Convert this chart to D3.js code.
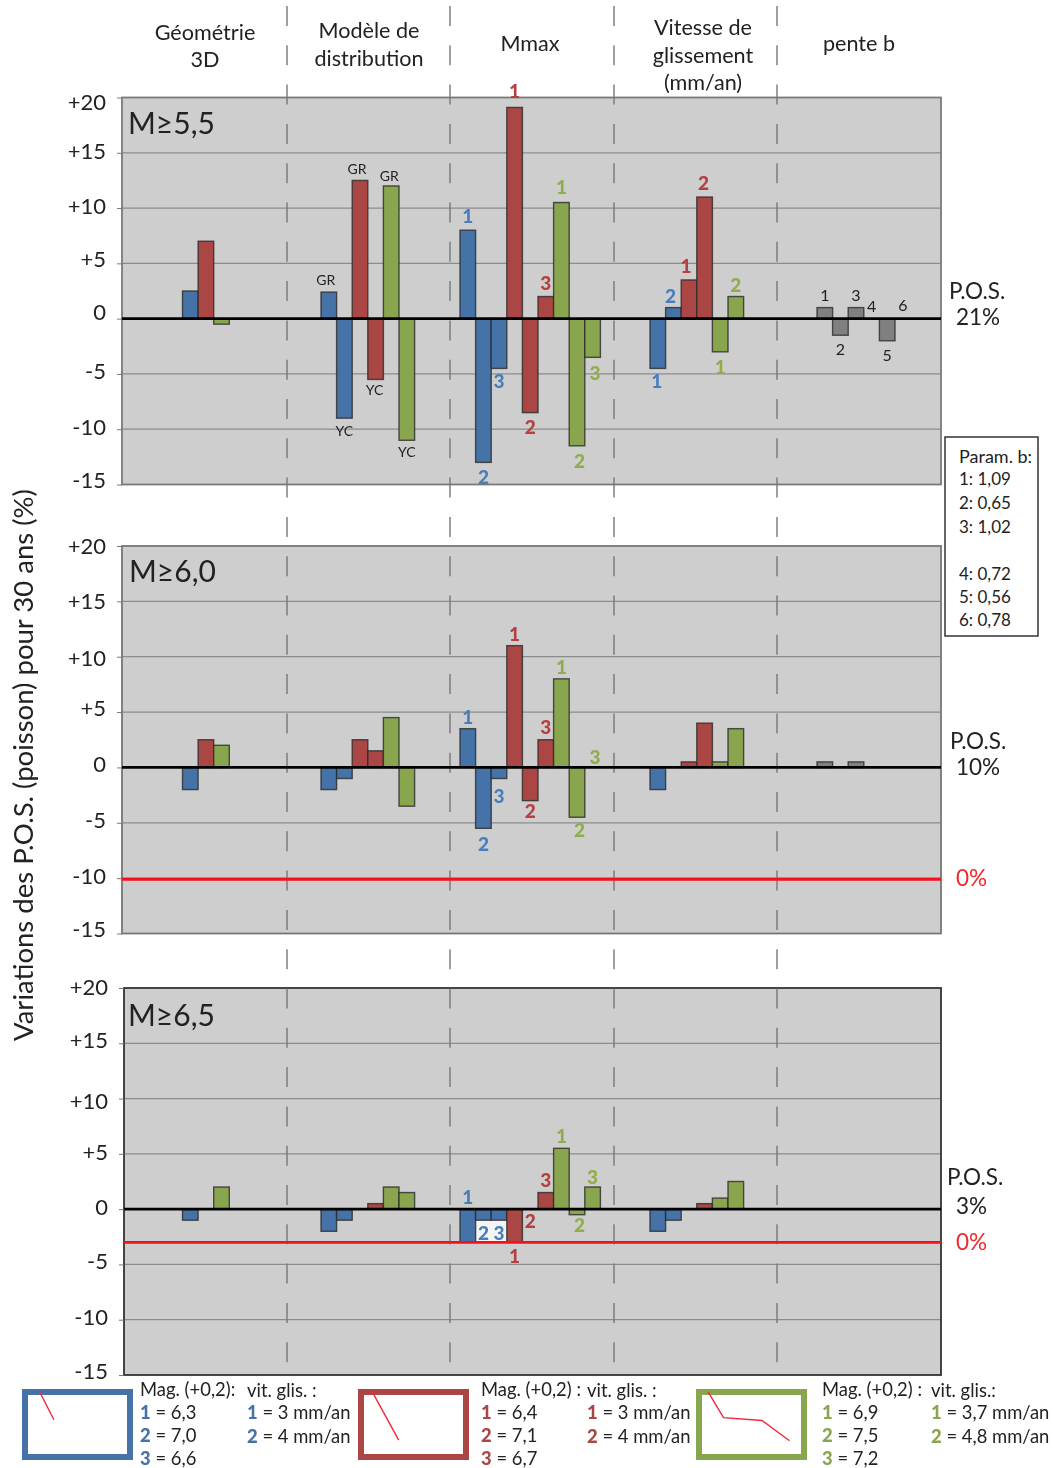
<!DOCTYPE html>
<html><head><meta charset="utf-8">
<script src="https://cdn.jsdelivr.net/npm/d3@7/dist/d3.min.js"></script>
<style>
html,body{margin:0;padding:0;background:#fff}
svg{display:block;filter:blur(0.45px)}
text{font-family:Lato,"Open Sans",sans-serif;fill:#222}
</style></head><body>
<svg id="c" width="1053" height="1468"></svg>
<script>
// ---------- data ----------
const tickValues = [20,15,10,5,0,-5,-10,-15];
const headers = [["Géométrie","3D"],["Modèle de","distribution"],["Mmax"],["Vitesse de","glissement","(mm/an)"],["pente b"]];
const panelTitles = ["M≥5,5","M≥6,0","M≥6,5"];

const geomColors    = ["b","r","g"];
const modeleColors  = ["b","b","r","r","g","g"];
const mmaxColors    = ["b","b","b","r","r","r","g","g","g"];
const vitesseColors = ["b","b","r","r","g","g"];
const penteColors   = ["k","k","k","k","k","k"];

const m55Geom    = [2.5,7,-0.5];
const m55Modele  = [2.4,-9,12.5,-5.5,12,-11];
const m55Mmax    = [8,-13,-4.5,19.1,-8.5,2,10.5,-11.5,-3.5];
const m55Vitesse = [-4.5,1,3.5,11,-3,2];
const m55Pente   = [1,-1.5,1,0,-2,0];

const m60Geom    = [-2,2.5,2];
const m60Modele  = [-2,-1,2.5,1.5,4.5,-3.5];
const m60Mmax    = [3.5,-5.5,-1,11,-3,2.5,8,-4.5,0];
const m60Vitesse = [-2,0,0.5,4,0.5,3.5];
const m60Pente   = [0.5,0,0.5,0,0,0];
const m60Reference = -10.1;

const m65Geom    = [-1,0,2];
const m65Modele  = [-2,-1,0,0.5,2,1.5];
const m65Mmax    = [-3,-1,-1,-3,0,1.5,5.5,-0.5,2];
const m65Vitesse = [-2,-1,0,0.5,1,2.5];
const m65Pente   = [0,0,0,0,0,0];
const m65Reference = -3;

const modeleLabels  = ["GR","YC","GR","YC","GR","YC"];
const mmaxLabels    = ["1","2","3","1","2","3","1","2","3"];
const vitesseLabels = ["1","2","1","2","1","2"];
const penteLabels   = ["1","2","3","4","5","6"];

const paramLines = ["Param. b:","1: 1,09","2: 0,65","3: 1,02","","4: 0,72","5: 0,56","6: 0,78"];
const magBlue=["6,3","7,0","6,6"], vitBlue=["3 mm/an","4 mm/an"];
const magRed=["6,4","7,1","6,7"],  vitRed=["3 mm/an","4 mm/an"];
const magGreen=["6,9","7,5","7,2"],vitGreen=["3,7 mm/an","4,8 mm/an"];
const curveBlue=[[16,4],[29,44]];
const curveRed=[[13,4],[37,73]];
const curveGreen=[[11,4],[25,41],[60,45],[85,74]];

// ---------- layout ----------
const colors={b:"#4572a7",r:"#aa4643",g:"#89a54e",k:"#808080"};
const textColors={b:"#4a7ebb",r:"#b5403f",g:"#8fae4a",k:"#222"};
const slotW=15.6;
const groupStart=[182.5,321,460,650,817];
const dashX=[287,450,614,777];
const nudgeMmax55=[-14,15,13,-16,15,-13,-15,15,16];
const nudgeMmax60=[-12,16,18,-11,11,-13,-12,13,-10];
const nudgeMmax65=[-45,13,13,14,12,-12,-12,10,-10];
const nudgeMod55=[-12,13,-11,11,-10,12];
const nudgeVit55=[13,-11,-14,-14,15,-11];
const nudgePen55=[-12,14,-12,-12,14,-13];
const panels=[
 {title:panelTitles[0],left:122,right:941,top:97.5,bottom:484.5,border:"#7a7a7a",tx:128,ty:134,
  tickNudge:[5,-1,-1,-3,-6,-2,-1,-4],
  groups:[
   {v:m55Geom,c:geomColors},
   {v:m55Modele,c:modeleColors,labels:modeleLabels,n:nudgeMod55,size:14,dark:true,dx:[-3,0,-3,-1,-2,0]},
   {v:m55Mmax,c:mmaxColors,labels:mmaxLabels,n:nudgeMmax55,dx:[0,0,0,0,0,0,0,2.5,2.5]},
   {v:m55Vitesse,c:vitesseColors,labels:vitesseLabels,n:nudgeVit55,dx:[-1,-3,-3,-1,0,0]},
   {v:m55Pente,c:penteColors,labels:penteLabels,n:nudgePen55,size:16,dark:true}],
  pos:[[949,299,"P.O.S."],[956,325,"21%"]]},
 {title:panelTitles[1],left:122,right:941,top:546,bottom:933.5,border:"#777",tx:129,ty:582,
  tickNudge:[1,1,2,-3,-2,-2,-1,-4],
  groups:[
   {v:m60Geom,c:geomColors},
   {v:m60Modele,c:modeleColors},
   {v:m60Mmax,c:mmaxColors,labels:mmaxLabels,n:nudgeMmax60,dx:[0,0,0,0,0,0,0,2.5,2.5]},
   {v:m60Vitesse,c:vitesseColors},
   {v:m60Pente,c:penteColors}],
  redAt:m60Reference,redY:886,pos:[[950,749,"P.O.S."],[956,775,"10%"]]},
 {title:panelTitles[2],left:124,right:941,top:988,bottom:1375,border:"#333",tx:128,ty:1026,
  tickNudge:[0,-2,3,-1,-1,-2,-2,-3],
  groups:[
   {v:m65Geom,c:geomColors},
   {v:m65Modele,c:modeleColors},
   {v:m65Mmax,c:mmaxColors,labels:mmaxLabels,n:nudgeMmax65,dx:[0,0,0,0,0,0,0,2.5,0]},
   {v:m65Vitesse,c:vitesseColors},
   {v:m65Pente,c:penteColors}],
  redAt:m65Reference,redY:1250,pos:[[947,1185,"P.O.S."],[956,1214,"3%"]],
  whiteBand:{group:2,from:1,to:3,v0:-1,v1:-3}}
];

const svg=d3.select("#c");

// backgrounds and grid
panels.forEach(p=>{
  p.y=d3.scaleLinear().domain([-15,20]).range([p.bottom,p.top]);
  svg.append("rect").attr("x",p.left).attr("y",p.top).attr("width",p.right-p.left).attr("height",p.bottom-p.top).attr("fill","#cecece");
  svg.append("g").selectAll("line").data(tickValues.filter(d=>d!==0&&d!==20&&d!==-15)).join("line")
    .attr("x1",p.left).attr("x2",p.right).attr("y1",d=>p.y(d)).attr("y2",d=>p.y(d))
    .attr("stroke","#8c8c8c").attr("stroke-width",1.2);
  svg.append("rect").attr("x",p.left).attr("y",p.top).attr("width",p.right-p.left).attr("height",p.bottom-p.top)
    .attr("fill","none").attr("stroke",p.border).attr("stroke-width",1.8);
});

// dashed separators
svg.append("g").selectAll("line").data(dashX).join("line")
  .attr("x1",d=>d).attr("x2",d=>d).attr("y1",6).attr("y2",1375)
  .attr("stroke","#777").attr("stroke-width",1.4).attr("stroke-dasharray","20 19.3");

// panels
panels.forEach(p=>{
  const axis=d3.axisLeft(p.y).tickValues(tickValues).tickSize(5).tickPadding(11)
    .tickFormat(d=>d>0?"+"+d:String(d));
  const g=svg.append("g").attr("transform",`translate(${p.left},0)`).call(axis);
  g.select(".domain").remove();
  g.selectAll(".tick line").attr("stroke","#777");
  g.selectAll(".tick text").style("font-size","22px").attr("fill","#222").attr("dy",(d,i)=>(p.tickNudge[i]+6.5)+"px");

  if(p.whiteBand){
    const w=p.whiteBand;
    const xb=d3.scaleBand().domain(d3.range(p.groups[w.group].v.length)).range([groupStart[w.group],groupStart[w.group]+p.groups[w.group].v.length*slotW]);
    svg.append("rect").attr("x",xb(w.from)).attr("width",(w.to-w.from)*slotW)
      .attr("y",p.y(w.v0)).attr("height",p.y(w.v1)-p.y(w.v0)).attr("fill","#f4f4f4");
  }
  p.groups.forEach((gr,gi)=>{
    const x=d3.scaleBand().domain(d3.range(gr.v.length)).range([groupStart[gi],groupStart[gi]+gr.v.length*slotW]);
    const rows=gr.v.map((v,i)=>({v,i,c:gr.c[i]}));
    svg.append("g").selectAll("rect").data(rows.filter(d=>d.v!==0)).join("rect")
      .attr("x",d=>x(d.i)).attr("width",x.bandwidth())
      .attr("y",d=>Math.min(p.y(d.v),p.y(0))).attr("height",d=>Math.abs(p.y(d.v)-p.y(0)))
      .attr("fill",d=>colors[d.c]).attr("stroke","#2a2a2a").attr("stroke-opacity",.8).attr("stroke-width",1.4);
    if(gr.labels){
      svg.append("g").selectAll("text").data(rows).join("text")
        .attr("x",d=>x(d.i)+x.bandwidth()/2+(gr.dx?gr.dx[d.i]:0))
        .attr("y",d=>p.y(d.v)+gr.n[d.i])
        .attr("dy","0.36em").attr("text-anchor","middle")
        .style("font-size",(gr.size||19)+"px").style("font-weight",gr.dark?400:900)
        .style("fill",d=>gr.dark?"#222":textColors[d.c])
        .text(d=>gr.labels[d.i]);
    }
  });
  // zero and red reference lines
  svg.append("line").attr("x1",p.left).attr("x2",p.right).attr("y1",p.y(0)).attr("y2",p.y(0)).attr("stroke","#000").attr("stroke-width",2.8);
  if(p.redAt!==undefined){
    svg.append("line").attr("x1",p.left).attr("x2",p.right).attr("y1",p.y(p.redAt)).attr("y2",p.y(p.redAt)).attr("stroke","#f5101c").attr("stroke-width",2.8);
    svg.append("text").attr("x",956).attr("y",p.redY).style("font-size","22.5px").style("fill","#f0282d").text("0%");
  }
  svg.append("text").attr("x",p.tx).attr("y",p.ty).style("font-size","30px").text(p.title);
  p.pos.forEach(a=>svg.append("text").attr("x",a[0]).attr("y",a[1]).style("font-size","22.5px").text(a[2]));
});

// headers
const headerX=[205,369,530,703,859];
const headerY=[[32,59],[30,58],[43],[27,55,82],[43]];
headers.forEach((lines,i)=>lines.forEach((t,j)=>{
  svg.append("text").attr("x",headerX[i]).attr("y",headerY[i][j]).attr("dy","0.36em").attr("text-anchor","middle")
    .style("font-size","21.6px").text(t);
}));

// y title
svg.append("text").attr("transform","translate(33,765) rotate(-90)").attr("text-anchor","middle")
  .style("font-size","27.5px").text("Variations des P.O.S. (poisson) pour 30 ans (%)");

// param box
svg.append("rect").attr("x",945).attr("y",437).attr("width",93).attr("height",199).attr("fill","#fff").attr("stroke","#333").attr("stroke-width",1.5);
const paramY=[457,479,503,527,0,574,597,620];
paramLines.forEach((t,i)=>{ if(t) svg.append("text").attr("x",959).attr("y",paramY[i]).attr("dy","0.36em").style("font-size",i?"17px":"18px").text(t); });

// legend
const legends=[
 {k:"b",box:22,curve:curveBlue,mag:magBlue,vit:vitBlue,mx:140,vx:247,mt:"Mag. (+0,2):",vt:"vit. glis. :"},
 {k:"r",box:358,curve:curveRed,mag:magRed,vit:vitRed,mx:481,vx:587,mt:"Mag. (+0,2) :",vt:"vit. glis. :"},
 {k:"g",box:696,curve:curveGreen,mag:magGreen,vit:vitGreen,mx:822,vx:931,mt:"Mag. (+0,2) :",vt:"vit. glis.:"}
];
const magY=[1412,1435,1458], vitY=[1412,1436];
function legendLine(x,y,num,rest,k){
  const t=svg.append("text").attr("transform",`translate(${x},${y}) scale(.97,1)`).attr("dy","0.36em").style("font-size","19px");
  t.append("tspan").style("font-weight",900).style("fill",colors[k]).text(num);
  t.append("tspan").text(" = "+rest);
}
legends.forEach(l=>{
  svg.append("rect").attr("x",l.box+3).attr("y",1392).attr("width",105).attr("height",65).attr("fill","#fff").attr("stroke",colors[l.k]).attr("stroke-width",6);
  const cx=d3.scaleLinear().domain([0,100]).range([l.box,l.box+110]);
  const cy=d3.scaleLinear().domain([0,100]).range([1389,1459]);
  svg.append("path").attr("d",d3.line().x(d=>cx(d[0])).y(d=>cy(d[1]))(l.curve)).attr("fill","none").attr("stroke","#f0283c").attr("stroke-width",1.4);
  svg.append("text").attr("transform",`translate(${l.mx},1389) scale(.97,1)`).attr("dy","0.36em").style("font-size","19px").text(l.mt);
  svg.append("text").attr("transform",`translate(${l.vx},1390) scale(.97,1)`).attr("dy","0.36em").style("font-size","19px").text(l.vt);
  l.mag.forEach((m,i)=>legendLine(l.mx,magY[i],String(i+1),m,l.k));
  l.vit.forEach((m,i)=>legendLine(l.vx,vitY[i],String(i+1),m,l.k));
});
</script>
</body></html>
